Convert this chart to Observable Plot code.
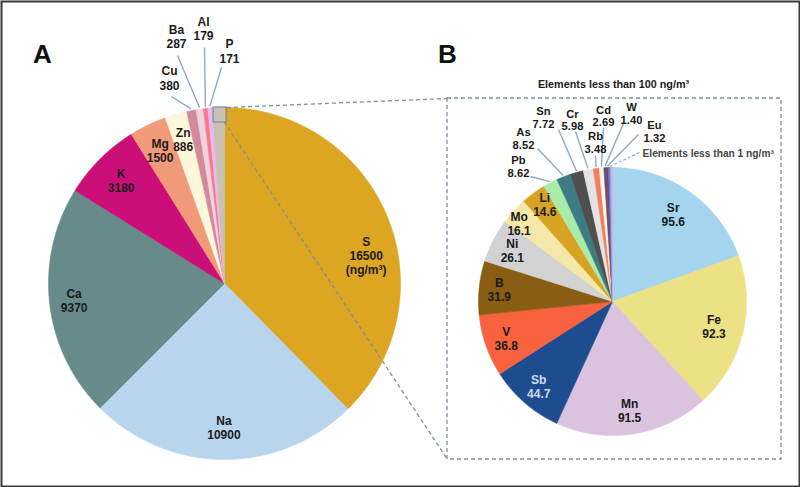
<!DOCTYPE html>
<html><head><meta charset="utf-8">
<script src="https://cdn.jsdelivr.net/npm/d3@7"></script>
<script src="https://cdn.jsdelivr.net/npm/@observablehq/plot@0.6"></script>
<style>body{margin:0;background:#fff;} #chart svg{display:block}</style>
</head><body><div id="chart"></div>
<script>
// ---------- DATA ----------
const majorElements = ["S","Na","Ca","K","Mg","Zn","Cu","Ba","Al","P"];
const majorValues   = [16500,10900,9370,3180,1500,886,380,287,179,171];
const minorElements = ["Sr","Fe","Mn","Sb","V","B","Ni","Mo","Li","Pb","As","Sn","Cr","Rb","Cd","W","Eu"];
const minorValues   = [95.6,92.3,91.5,44.7,36.8,31.9,26.1,16.1,14.6,8.62,8.52,7.72,5.98,3.48,2.69,1.40,1.32];
const traceElements = ["t1","t2","t3"];          // elements less than 1 ng/m3 (unlabelled)
const traceValues   = [0.9,0.8,0.65];
const othersName = "others";                      // slice of A expanded in B

// ---------- STYLE ----------
const majorColors = ["#dca623","#b8d5ee","#678a8a","#cc0f78","#f19a7a","#fdf7dc","#d4899a","#efd3de","#f57b8b","#f1b7ec"];
const othersColor = "#c9c2b2";
const minorColors = ["#a5d4ee","#ece185","#dac3de","#1d4d8f","#f8623f","#8a5d14","#d2d2d2","#f3e8a8","#d8a323","#a9eba9","#3e7c84","#4f4f4f","#e3e3e3","#f2805e","#fff6e8","#6e4f5e","#5c4a8e"];
const traceColors = ["#7f6fb8","#a99bd8","#c4b6e4"];

// ---------- LAYOUT ----------
const W = 800, H = 487;
const pieA = {cx: 224, cy: 283, r: 176};
const pieB = {cx: 612, cy: 301, r: 134};
const insideA = {S:[79,0.82], Na:[null,0.82], Ca:[null,0.86], K:[null,0.83], Mg:[null,0.84], Zn:[null,0.85]};
const insideB = {Sr:[null,0.79], Fe:[null,0.78], Mn:[null,0.82], Sb:[null,0.84], V:[null,0.84], B:[null,0.85], Ni:[null,0.84], Mo:[310,0.91], Li:[325,0.88]};
const calloutA = {Cu:[169,77.5,171,96], Ba:[176,36,177,55], Al:[203,28,204,47], P:[229,50.5,221,67]};
const calloutB = {Pb:[518,166,530,176], As:[523,138,537,148], Sn:[543,117,558,129], Cr:[572,119.5,575,131],
                  Rb:[595,142,595,155], Cd:[603,115.5,603,127], W:[631,113,623,123], Eu:[654,131,638,134]};
const boxB = {x1: 447, y1: 98, x2: 781, y2: 459};

// ---------- GEOMETRY ----------
const othersValue = d3.sum(minorValues) + d3.sum(traceValues);
const namesA = [...majorElements, othersName];
const valuesA = [...majorValues, othersValue];
const namesB = [...minorElements, ...traceElements];
const valuesB = [...minorValues, ...traceValues];

function arcsOf(names, values) {
  return d3.pie().sort(null).value(d => d.value)(names.map((name, i) => ({name, value: values[i]})));
}
function polar(p, a, k) { return [p.cx + k * p.r * Math.sin(a), p.cy - k * p.r * Math.cos(a)]; }
function polygons(arcs, p, key) {
  const pts = [];
  for (const a of arcs) {
    const id = key + a.data.name;
    pts.push({id, x: p.cx, y: p.cy});
    const n = Math.max(2, Math.ceil((a.endAngle - a.startAngle) / 0.004));
    for (let i = 0; i <= n; i++) {
      const t = a.startAngle + (a.endAngle - a.startAngle) * i / n;
      const [x, y] = polar(p, t, 1);
      pts.push({id, x, y});
    }
    pts.push({id, x: p.cx, y: p.cy});
  }
  return pts;
}
const arcsA = arcsOf(namesA, valuesA);
const arcsB = arcsOf(namesB, valuesB);
const polyA = polygons(arcsA, pieA, "A:");
const polyB = polygons(arcsB, pieB, "B:");

const colorDomain = [...namesA.map(n => "A:" + n), ...namesB.map(n => "B:" + n)];
const colorRange = [...majorColors, othersColor, ...minorColors, ...traceColors];

const fmtA = v => String(v);
const fmtB = v => v < 10 ? v.toFixed(2) : v.toFixed(1);
const mid = a => (a.startAngle + a.endAngle) / 2;

const labels = [], smallLabels = [], leaders = [];
for (const a of arcsA) {
  const n = a.data.name;
  if (insideA[n]) {
    const [deg, k] = insideA[n];
    const ang = deg == null ? mid(a) : deg * Math.PI / 180;
    const [x, y] = polar(pieA, ang, k);
    const text = n + "\n" + fmtA(a.data.value) + (n === "S" ? "\n(ng/m³)" : "");
    labels.push({x, y, text, fill: "#1a1a1a"});
  } else if (calloutA[n]) {
    const [lx, ly, ox, oy] = calloutA[n];
    labels.push({x: lx, y: ly, text: n + "\n" + fmtA(a.data.value), fill: "#1a1a1a"});
    const [ix, iy] = polar(pieA, mid(a), 1.01);
    leaders.push({x1: ox, y1: oy, x2: ix, y2: iy});
  }
}
for (const a of arcsB) {
  const n = a.data.name;
  if (insideB[n]) {
    const [deg, k] = insideB[n];
    const ang = deg == null ? mid(a) : deg * Math.PI / 180;
    const [x, y] = polar(pieB, ang, k);
    labels.push({x, y, text: n + "\n" + fmtB(a.data.value), fill: n === "Sb" ? "#cfdcf0" : "#1a1a1a"});
  } else if (calloutB[n]) {
    const [lx, ly, ox, oy] = calloutB[n];
    smallLabels.push({x: lx, y: ly, text: n + "\n" + fmtB(a.data.value), fill: "#1a1a1a"});
    const [ix, iy] = polar(pieB, mid(a), 1.01);
    leaders.push({x1: ox, y1: oy, x2: ix, y2: iy});
  }
}
// trace group leader (dashed)
const traceArcs = arcsB.filter(a => traceElements.includes(a.data.name));
const traceMid = (traceArcs[0].startAngle + traceArcs[traceArcs.length - 1].endAngle) / 2;
const [tx, ty] = polar(pieB, traceMid, 1.01);
const traceLeader = [{x1: 639, y1: 152, x2: tx, y2: ty}];

// small box around the "others" slice in A
const othersArc = arcsA.find(a => a.data.name === othersName);
const [ox0] = polar(pieA, othersArc.startAngle, 1);
const smallBox = {x1: ox0 + 1.5, x2: pieA.cx + 2.5, y1: pieA.cy - pieA.r, y2: pieA.cy - pieA.r + 15};
const connectors = [
  {x1: smallBox.x2, y1: smallBox.y1, x2: boxB.x1, y2: boxB.y1},
  {x1: smallBox.x2 - 3, y1: smallBox.y2 - 1, x2: boxB.x1, y2: boxB.y2}
];

const font = "Liberation Sans, Arial, sans-serif";
const chart = Plot.plot({
  width: W, height: H, margin: 0,
  x: {domain: [0, W], range: [0, W], axis: null},
  y: {domain: [0, H], range: [0, H], axis: null},
  color: {domain: colorDomain, range: colorRange},
  style: {fontFamily: font, background: "#fff"},
  marks: [
    Plot.line(polyA, {x: "x", y: "y", z: "id", fill: "id", stroke: "id", strokeWidth: 0.6}),
    Plot.line(polyB, {x: "x", y: "y", z: "id", fill: "id", stroke: "id", strokeWidth: 0.6}),
    Plot.rect([smallBox], {x1: "x1", x2: "x2", y1: "y1", y2: "y2", fill: "none", stroke: "#7a93b0", strokeWidth: 1.3}),
    Plot.rect([boxB], {x1: "x1", x2: "x2", y1: "y1", y2: "y2", fill: "none", stroke: "#7d8e9e", strokeWidth: 1.3, strokeDasharray: "4,3"}),
    Plot.link(connectors, {x1: "x1", y1: "y1", x2: "x2", y2: "y2", stroke: "#7d8e9e", strokeWidth: 1.3, strokeDasharray: "4,3"}),
    Plot.link(leaders, {x1: "x1", y1: "y1", x2: "x2", y2: "y2", stroke: "#8eaabd", strokeWidth: 1.4}),
    Plot.link(traceLeader, {x1: "x1", y1: "y1", x2: "x2", y2: "y2", stroke: "#8eaabd", strokeWidth: 1.2, strokeDasharray: "3,2"}),
    Plot.text(labels, {x: "x", y: "y", text: "text", fill: "fill", fontSize: 12, fontWeight: "bold", lineHeight: 1.17}),
    Plot.text(smallLabels, {x: "x", y: "y", text: "text", fill: "fill", fontSize: 11.2, fontWeight: "bold", lineHeight: 1.1}),
    Plot.text(["Elements less than 1 ng/m³"], {x: [642], y: [153], text: d => d, textAnchor: "start", fontSize: 10.2, fontWeight: "bold", fill: "#444"}),
    Plot.text(["Elements less than 100 ng/m³"], {x: [613], y: [84], text: d => d, fontSize: 10.8, fontWeight: "bold", fill: "#1a1a1a"}),
    Plot.text(["A", "B"], {x: [42, 447], y: [54, 54], text: d => d, fontSize: 26, fontWeight: "bold", fill: "#111"}),
    Plot.frame({stroke: "#3a3a3a", strokeWidth: 2, inset: 1})
  ]
});
document.getElementById("chart").appendChild(chart);
</script>
</body></html>
